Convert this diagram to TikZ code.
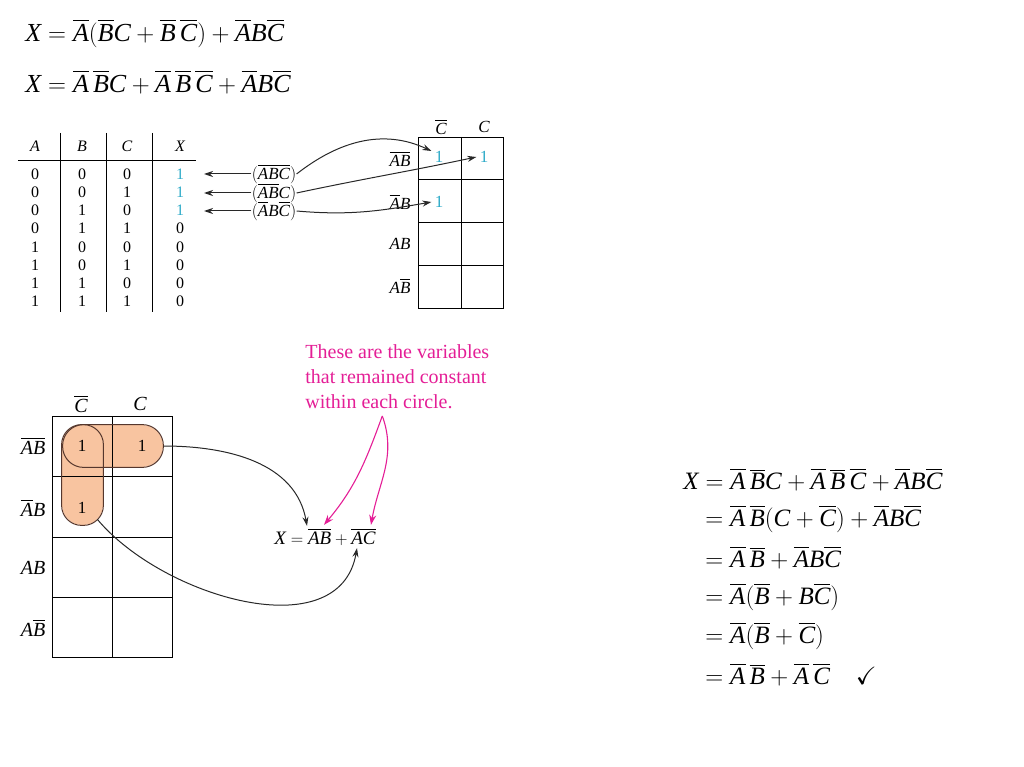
\documentclass[tikz,border=0pt]{standalone}
\usepackage{fontspec}
\setmainfont{Liberation Serif}
\usepackage{amssymb}
\usetikzlibrary{arrows.meta,positioning,calc}
\definecolor{onecyan}{RGB}{45,170,200}
\definecolor{notepink}{RGB}{228,30,150}
\definecolor{loopfill}{RGB}{248,196,160}
\definecolor{loopedge}{RGB}{85,55,45}
\definecolor{inkgray}{RGB}{40,40,40}
\newcommand{\vr}[1]{\mbox{\itshape #1}}
\newcommand{\nt}[1]{\overline{\vr{#1}}}
\tikzset{
  eqn/.style={anchor=west, inner sep=0pt, font=\fontsize{26}{30}\selectfont},
  dereqn/.style={anchor=west, inner sep=0pt, font=\fontsize{25}{29}\selectfont},
  ttcell/.style={inner sep=0pt, font=\fontsize{16}{18}\selectfont},
  smallkm/.style={inner sep=0pt, font=\fontsize{17}{19}\selectfont},
  bigkm/.style={inner sep=0pt, font=\fontsize{20}{22}\selectfont},
  loopbox/.style={fill=loopfill, draw=none, inner sep=0pt},
  conn/.style={-{Stealth[length=9pt,width=6pt]}, inkgray, line width=1pt},
  pinkarr/.style={-{Stealth[length=10pt,width=7pt]}, notepink, line width=1.1pt},
}

\begin{document}
\begin{tikzpicture}[x=1pt, y=1pt, line width=0.8pt]
  \useasboundingbox (0,0) rectangle (1024,-767);

  % starting expressions
  \node[eqn] (eqa) at (25,-33)
    {$\vr{X} = \nt{A}(\nt{B}\vr{C} + \nt{B}\,\nt{C}) + \nt{A}\vr{B}\nt{C}$};
  \node[eqn] (eqb) at (25,-82)
    {$\vr{X} = \nt{A}\,\nt{B}\vr{C} + \nt{A}\,\nt{B}\,\nt{C} + \nt{A}\vr{B}\nt{C}$};

  % truth table
  \draw (18,-160) -- (196,-160);
  \foreach \xx in {60,106,152} \draw (\xx,-133) -- (\xx,-312);
  \foreach \hd/\xx in {A/35,B/82,C/127,X/180}
    \node[ttcell] (h\hd) at (\xx,-146) {\itshape\hd};
  \foreach \a/\b/\c/\x/\col [count=\i] in
      {0/0/0/1/onecyan,0/0/1/1/onecyan,0/1/0/1/onecyan,0/1/1/0/black,
       1/0/0/0/black,1/0/1/0/black,1/1/0/0/black,1/1/1/0/black}{
    \node[ttcell] (ra\i) at (35,-174-18.2*\i+18.2) {\a};
    \node[ttcell] (rb\i) at (82,-174-18.2*\i+18.2) {\b};
    \node[ttcell] (rc\i) at (127,-174-18.2*\i+18.2) {\c};
    \node[ttcell, text=\col] (rx\i) at (180,-174-18.2*\i+18.2) {\x};
  }

  % minterm labels
  \node[smallkm] (ma) at (274,-174) {$(\nt{A}\nt{B}\nt{C})$};
  \node[smallkm] (mb) at (274,-193) {$(\nt{A}\nt{B}\vr{C})$};
  \node[smallkm] (mc) at (274,-211) {$(\nt{A}\vr{B}\nt{C})$};
  \coordinate (ta) at (204,-174);
  \coordinate (tb) at (204,-193);
  \coordinate (tc) at (204,-211);
  \draw[conn] (ma.west) -- (ta);
  \draw[conn] (mb.west) -- (tb);
  \draw[conn] (mc.west) -- (tc);

  % small K-map
  \draw (418,-137) rectangle (503,-308);
  \draw (461,-137) -- (461,-308);
  \foreach \yy in {-179.75,-222.5,-265.25} \draw (418,\yy) -- (503,\yy);
  \node[smallkm] (sc0) at (441,-127) {$\nt{C}$};
  \node[smallkm] (sc1) at (484,-127) {$\vr{C}$};
  \node[smallkm] (sr1) at (400,-159) {$\nt{A}\nt{B}$};
  \node[smallkm] (sr2) at (400,-202) {$\nt{A}\vr{B}$};
  \node[smallkm] (sr3) at (400,-244) {$\vr{A}\vr{B}$};
  \node[smallkm] (sr4) at (400,-286) {$\vr{A}\nt{B}$};
  \node[smallkm, text=onecyan] (sa) at (439,-157) {1};
  \node[smallkm, text=onecyan] (sb) at (484,-157) {1};
  \node[smallkm, text=onecyan] (sd) at (439,-202) {1};
  \draw[conn] (ma.east) to[out=38,in=155] ([xshift=-3pt]sa.north west);
  \draw[conn] (mb.east) to[out=12,in=192] ([xshift=-3pt]sb.west);
  \draw[conn] (mc.east) to[out=-5,in=190] ([xshift=-3pt]sd.west);

  % large K-map with groups
  \node[loopbox, minimum width=100, minimum height=42, rounded corners=21] (hloop) at (113,-446) {};
  \node[loopbox, minimum width=41, minimum height=100, rounded corners=20] (vloop) at (82.5,-475) {};
  \draw (52,-416) rectangle (172,-657);
  \draw (112,-416) -- (112,-657);
  \foreach \yy in {-476,-537,-597} \draw (52,\yy) -- (172,\yy);
  \draw[loopedge, line width=1pt, rounded corners=21] (hloop.south west) rectangle (hloop.north east);
  \draw[loopedge, line width=1pt, rounded corners=20] (vloop.south west) rectangle (vloop.north east);
  \node[bigkm] (bc0) at (81,-404) {$\nt{C}$};
  \node[bigkm] (bc1) at (140,-404) {$\vr{C}$};
  \node[bigkm] (br1) at (33,-446) {$\nt{A}\nt{B}$};
  \node[bigkm] (br2) at (33,-508) {$\nt{A}\vr{B}$};
  \node[bigkm] (br3) at (33,-568) {$\vr{A}\vr{B}$};
  \node[bigkm] (br4) at (33,-628) {$\vr{A}\nt{B}$};
  \node[bigkm, font=\fontsize{17}{19}\selectfont] (ba) at (82,-446) {1};
  \node[bigkm, font=\fontsize{17}{19}\selectfont] (bb) at (142,-446) {1};
  \node[bigkm, font=\fontsize{17}{19}\selectfont] (bd) at (82,-508) {1};

  % result and note
  \node[bigkm, font=\fontsize{19}{21}\selectfont] (fx) at (325,-537)
    {$\vr{X} = \nt{A}\nt{B} + \nt{A}\nt{C}$};
  \node[anchor=north west, inner sep=0pt, align=left, text=notepink,
        font=\fontsize{20}{25}\selectfont] (note) at (305,-344)
    {These are the variables\\that remained constant\\within each circle.};
  \draw[conn] (hloop.east) to[out=0,in=100] ([xshift=-18pt,yshift=2pt]fx.north);
  \draw[conn] ([xshift=-6pt,yshift=6pt]vloop.south east) to[out=-50,in=-100] ([xshift=32pt,yshift=-2pt]fx.south);
  \draw[pinkarr] ([xshift=-15pt,yshift=-7pt]note.south) to[out=-110,in=50] ([xshift=-1pt,yshift=3pt]fx.north);
  \draw[pinkarr] ([xshift=-15pt,yshift=-7pt]note.south) to[out=-70,in=80] ([xshift=46pt,yshift=3pt]fx.north);

  % algebraic check
  \node[dereqn] (da) at (683,-480)
    {$\vr{X} = \nt{A}\,\nt{B}\vr{C} + \nt{A}\,\nt{B}\,\nt{C} + \nt{A}\vr{B}\nt{C}$};
  \node[dereqn] (db) at (705,-519) {$= \nt{A}\,\nt{B}(\vr{C} + \nt{C}) + \nt{A}\vr{B}\nt{C}$};
  \node[dereqn] (dc) at (705,-558) {$= \nt{A}\,\nt{B} + \nt{A}\vr{B}\nt{C}$};
  \node[dereqn] (dd) at (705,-597) {$= \nt{A}(\nt{B} + \vr{B}\nt{C})$};
  \node[dereqn] (de) at (705,-636) {$= \nt{A}(\nt{B} + \nt{C})$};
  \node[dereqn] (df) at (705,-675) {$= \nt{A}\,\nt{B} + \nt{A}\,\nt{C}\hspace{26pt}\checkmark$};
\end{tikzpicture}
\end{document}
